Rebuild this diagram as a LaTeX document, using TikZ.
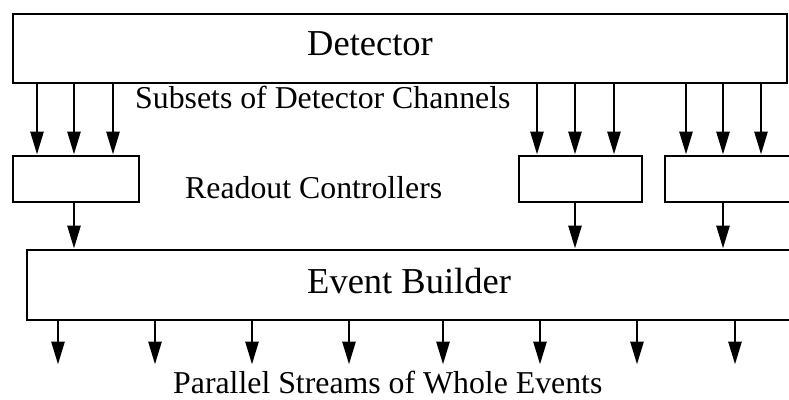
\documentclass[tikz,border=0pt]{standalone}
\usepackage{fontspec}
\setmainfont{Liberation Serif}
\usetikzlibrary{arrows.meta}
\tikzset{
  blk/.style={draw, line width=1.8pt, inner sep=0pt, anchor=north west},
  lbl/.style={inner sep=0pt, anchor=base west},
  big/.style={lbl, font=\fontsize{36.5}{40}\selectfont},
  small/.style={lbl, font=\fontsize{31.8}{36}\selectfont},
  arr/.style={line width=2.8pt, -{Triangle[length=23pt,width=13pt]}, shorten >=0.5pt},
}
\begin{document}
\begin{tikzpicture}[x=1pt, y=-1pt]
\useasboundingbox (0,0) rectangle (789,399);
\clip (0,0) rectangle (789,399);
\fill[white] (0,0) rectangle (789,399);

% blocks
\node[blk, minimum width=774pt, minimum height=69pt] (det) at (12,13) {};
\node[blk, minimum width=126pt, minimum height=46pt] (rcA) at (12,155) {};
\node[blk, minimum width=123pt, minimum height=46pt] (rcB) at (518,155) {};
\node[blk, minimum width=140pt, minimum height=46pt] (rcC) at (664,155) {};
\node[blk, minimum width=800pt, minimum height=70pt] (eb) at (26,249) {};

% labels
\node[big] (tdet) at (307,55) {Detector};
\node[small] (tsub) at (135,108) {Subsets of Detector Channels};
\node[small] (trc) at (185,198) {Readout Controllers};
\node[big] (teb) at (307,293) {Event Builder};
\node[small] (tout) at (173,393) {Parallel Streams of Whole Events};

% detector channels to readout controllers
\foreach \dx in {25,62,101}
  \draw[arr] ([xshift=\dx pt]rcA.north west |- det.south) -- ([xshift=\dx pt]rcA.north west);
\foreach \dx in {19,57,96}
  \draw[arr] ([xshift=\dx pt]rcB.north west |- det.south) -- ([xshift=\dx pt]rcB.north west);
\foreach \dx in {22,59,97}
  \draw[arr] ([xshift=\dx pt]rcC.north west |- det.south) -- ([xshift=\dx pt]rcC.north west);

% readout controllers to event builder
\draw[arr] ([xshift=62pt]rcA.south west) -- ([xshift=62pt]rcA.south west |- eb.north);
\draw[arr] ([xshift=57pt]rcB.south west) -- ([xshift=57pt]rcB.south west |- eb.north);
\draw[arr] ([xshift=59pt]rcC.south west) -- ([xshift=59pt]rcC.south west |- eb.north);

% output streams
\foreach \i/\x in {1/58,2/155,3/252,4/349,5/443,6/540,7/637,8/735} {
  \coordinate (o\i) at (\x,365);
  \draw[arr] (eb.south -| o\i) -- (o\i);
}
\end{tikzpicture}
\end{document}
